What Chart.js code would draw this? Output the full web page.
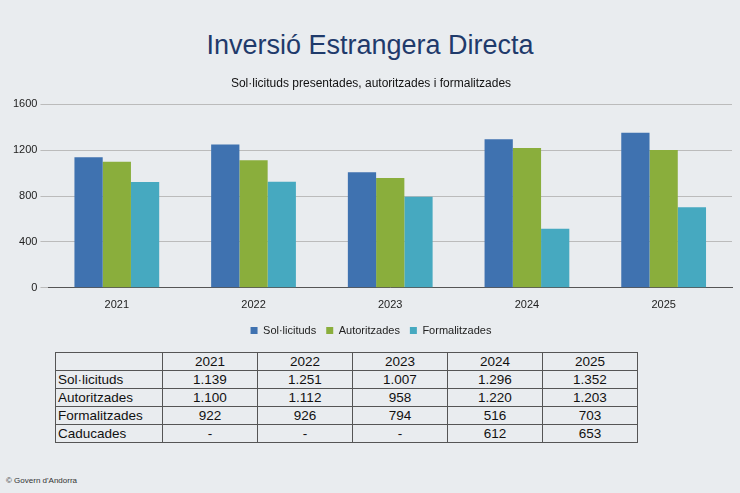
<!DOCTYPE html>
<html><head><meta charset="utf-8">
<script src="https://cdn.jsdelivr.net/npm/chart.js@4/dist/chart.umd.min.js"></script>
<style>
body{margin:0;width:740px;height:493px;background:#e9ecef;font-family:"Liberation Sans",Arial,sans-serif;position:relative;overflow:hidden}
#title{position:absolute;top:30px;left:0;width:740px;text-align:center;font-size:27px;color:#1f3a6b}
#wrap{position:absolute;top:74px;left:0;width:740px;height:272px}
table{position:absolute;top:352px;left:55px;border-collapse:collapse;font-size:13.5px;color:#111}
td{border:1px solid #555;height:17px;padding:0 2px;text-align:center;width:90px}
td:first-child{text-align:left;width:102px}
#foot{position:absolute;left:6px;top:476px;font-size:8px;color:#333}
</style></head><body>
<div id="title">Inversió Estrangera Directa</div>
<div id="wrap"><canvas id="c"></canvas></div>
<table id="t"></table>
<div id="foot">© Govern d'Andorra</div>
<script>
const years=["2021","2022","2023","2024","2025"];
const solicituds=[1139,1251,1007,1296,1352];
const autoritzades=[1100,1112,958,1220,1203];
const formalitzades=[922,926,794,516,703];
const caducades=["-","-","-","612","653"];
const fmt=v=>typeof v==="number"?v.toLocaleString("de-DE"):v;
const rows=[["",...years],["Sol·licituds",...solicituds.map(fmt)],["Autoritzades",...autoritzades.map(fmt)],["Formalitzades",...formalitzades.map(fmt)],["Caducades",...caducades]];
document.getElementById("t").innerHTML=rows.map(r=>"<tr>"+r.map(c=>"<td>"+c+"</td>").join("")+"</tr>").join("");
new Chart(document.getElementById("c"),{type:"bar",
data:{labels:years,datasets:[
{label:"Sol·licituds",data:solicituds,backgroundColor:"#3f72b0"},
{label:"Autoritzades",data:autoritzades,backgroundColor:"#8aae3c"},
{label:"Formalitzades",data:formalitzades,backgroundColor:"#46a9c0"}]},
options:{responsive:true,maintainAspectRatio:false,animation:false,
layout:{padding:{left:10,right:8}},
datasets:{bar:{categoryPercentage:0.62,barPercentage:1}},
plugins:{title:{display:true,text:"Sol·licituds presentades, autoritzades i formalitzades",color:"#111",font:{size:12,weight:"normal"},padding:{top:2,bottom:14}},
legend:{position:"bottom",labels:{boxWidth:7,boxHeight:7,color:"#222",font:{size:11}}}},
scales:{x:{grid:{display:false},border:{color:"#555"},ticks:{color:"#222",font:{size:11}}},
y:{min:0,max:1600,ticks:{stepSize:400,color:"#222",font:{size:11},callback:v=>String(v)},grid:{color:"#bbb"},border:{display:false}}}}});
</script></body></html>
